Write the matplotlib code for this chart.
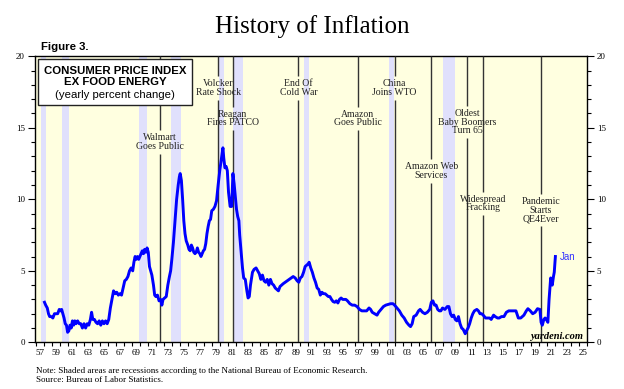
import numpy as np
import matplotlib
matplotlib.use("Agg")
from matplotlib import pyplot as plt
from matplotlib.patches import Rectangle

# core CPI, yearly % change, decimal years
years = [
    1958.05, 1958.2, 1958.4, 1958.55, 1958.7, 1958.9, 1959.1, 1959.3, 1959.5, 1959.7, 1959.9,
    1960.05, 1960.2, 1960.35, 1960.5, 1960.65, 1960.8, 1960.95, 1961.1, 1961.25, 1961.4, 1961.55,
    1961.7, 1961.85, 1962.0, 1962.2, 1962.4, 1962.6, 1962.8, 1963.0, 1963.2, 1963.4, 1963.6,
    1963.8, 1963.95, 1964.1, 1964.3, 1964.5, 1964.7, 1964.9, 1965.1, 1965.3, 1965.5, 1965.7,
    1965.9, 1966.1, 1966.3, 1966.5, 1966.7, 1966.9, 1967.1, 1967.3, 1967.5, 1967.7, 1967.9,
    1968.1, 1968.3, 1968.5, 1968.7, 1968.9, 1969.1, 1969.25, 1969.4, 1969.55, 1969.7, 1969.85,
    1970.0, 1970.15, 1970.3, 1970.45, 1970.6, 1970.75, 1970.9, 1971.05, 1971.2, 1971.35, 1971.5,
    1971.7, 1971.85, 1972.0, 1972.2, 1972.4, 1972.6, 1972.75, 1972.9, 1973.1, 1973.3, 1973.5,
    1973.7, 1973.85, 1974.0, 1974.2, 1974.4, 1974.6, 1974.8, 1974.95, 1975.05, 1975.2, 1975.35,
    1975.5, 1975.65, 1975.8, 1976.0, 1976.15, 1976.3, 1976.45, 1976.6, 1976.75, 1976.9, 1977.05,
    1977.2, 1977.35, 1977.5, 1977.65, 1977.8, 1977.95, 1978.1, 1978.25, 1978.4, 1978.55, 1978.7,
    1978.85, 1979.0, 1979.2, 1979.4, 1979.6, 1979.8, 1980.0, 1980.15, 1980.3, 1980.4, 1980.5,
    1980.65, 1980.8, 1980.95, 1981.1, 1981.3, 1981.5, 1981.65, 1981.8, 1981.95, 1982.1, 1982.25,
    1982.4, 1982.5, 1982.7, 1982.85, 1983.0, 1983.2, 1983.4, 1983.55, 1983.7, 1983.85, 1984.1,
    1984.3, 1984.55, 1984.75, 1984.95, 1985.15, 1985.35, 1985.55, 1985.75, 1985.95, 1986.15,
    1986.35, 1986.55, 1986.75, 1986.95, 1987.15, 1987.35, 1987.55, 1987.75, 1987.95, 1988.2,
    1988.45, 1988.7, 1988.95, 1989.2, 1989.45, 1989.7, 1989.9, 1990.1, 1990.3, 1990.5, 1990.7,
    1990.9, 1991.1, 1991.2, 1991.4, 1991.6, 1991.8, 1992.0, 1992.2, 1992.4, 1992.6, 1992.8,
    1993.0, 1993.2, 1993.4, 1993.6, 1993.8, 1994.0, 1994.2, 1994.4, 1994.6, 1994.8, 1995.0,
    1995.2, 1995.4, 1995.6, 1995.8, 1996.0, 1996.3, 1996.6, 1996.9, 1997.2, 1997.5, 1997.8,
    1998.1, 1998.4, 1998.7, 1998.9, 1999.1, 1999.4, 1999.7, 1999.9, 2000.2, 2000.5, 2000.8,
    2001.1, 2001.4, 2001.7, 2001.9, 2002.2, 2002.5, 2002.8, 2003.1, 2003.4, 2003.7, 2003.9,
    2004.1, 2004.3, 2004.6, 2004.9, 2005.1, 2005.4, 2005.7, 2006.0, 2006.3, 2006.5, 2006.7,
    2006.9, 2007.1, 2007.3, 2007.5, 2007.7, 2007.9, 2008.2, 2008.5, 2008.7, 2008.9, 2009.1,
    2009.3, 2009.5, 2009.7, 2009.9, 2010.1, 2010.3, 2010.5, 2010.75, 2010.9, 2011.1, 2011.3,
    2011.5, 2011.7, 2011.9, 2012.2, 2012.4, 2012.6, 2012.8, 2013.0, 2013.3, 2013.5, 2013.8,
    2014.0, 2014.3, 2014.5, 2014.8, 2015.0, 2015.3, 2015.6, 2015.9, 2016.2, 2016.5, 2016.8,
    2017.1, 2017.4, 2017.7, 2017.9, 2018.1, 2018.4, 2018.6, 2018.9, 2019.2, 2019.5, 2019.8,
    2020.1, 2020.25, 2020.4, 2020.6, 2020.75, 2020.9, 2021.1, 2021.25, 2021.35, 2021.45, 2021.55,
    2021.65, 2021.8, 2021.9, 2022.04,
]
core_cpi = [
    2.8, 2.6, 2.4, 2.0, 1.8, 1.8, 1.7, 2.0, 2.0, 2.0, 2.3,
    2.2, 2.3, 2.0, 1.7, 1.3, 1.2, 0.7, 0.8, 1.2, 1.0, 1.5,
    1.2, 1.5, 1.3, 1.5, 1.3, 1.3, 1.0, 1.3, 1.0, 1.3, 1.2,
    1.6, 2.1, 1.6, 1.6, 1.4, 1.3, 1.5, 1.2, 1.5, 1.3, 1.5,
    1.3, 1.6, 2.4, 3.0, 3.6, 3.4, 3.5, 3.3, 3.4, 3.3, 3.8,
    4.3, 4.4, 4.6, 5.0, 5.2, 5.0, 5.6, 6.0, 5.8, 6.0, 5.8,
    6.0, 6.2, 6.4, 6.2, 6.5, 6.3, 6.6, 6.3, 5.3, 5.0, 4.7,
    4.0, 3.3, 3.2, 3.3, 2.9, 3.0, 2.6, 3.0, 3.1, 3.2, 4.0,
    4.6, 5.0, 5.8, 7.0, 8.5, 10.0, 11.0, 11.6, 11.8, 11.3, 10.0,
    8.5, 7.6, 7.1, 6.8, 6.5, 6.4, 6.8, 6.6, 6.3, 6.2, 6.3,
    6.6, 6.3, 6.2, 6.0, 6.2, 6.4, 6.5, 6.9, 7.6, 8.1, 8.5,
    8.6, 9.2, 9.3, 9.5, 9.9, 11.0, 12.0, 12.6, 13.2, 13.6, 12.9,
    12.2, 12.3, 12.0, 10.5, 9.5, 9.5, 11.8, 11.1, 10.2, 9.3, 8.8,
    8.5, 7.5, 6.2, 5.2, 4.5, 4.4, 3.6, 3.1, 3.2, 4.0, 4.9,
    5.1, 5.2, 5.0, 4.8, 4.4, 4.7, 4.3, 4.2, 4.4, 4.0,
    4.4, 4.1, 4.0, 3.8, 3.7, 3.6, 3.9, 4.0, 4.1, 4.2,
    4.3, 4.4, 4.5, 4.6, 4.5, 4.3, 4.2, 4.5, 4.6, 4.9, 5.3,
    5.4, 5.5, 5.6, 5.2, 4.9, 4.5, 4.2, 3.8, 3.7, 3.3, 3.5,
    3.4, 3.4, 3.3, 3.2, 3.2, 3.0, 2.85, 2.8, 2.9, 2.75, 3.0,
    3.1, 3.0, 3.0, 3.0, 2.9, 2.7, 2.6, 2.6, 2.5, 2.3, 2.2,
    2.2, 2.2, 2.4, 2.3, 2.1, 2.0, 1.9, 2.1, 2.3, 2.5, 2.6,
    2.65, 2.7, 2.7, 2.6, 2.4, 2.2, 1.9, 1.7, 1.4, 1.2, 1.1,
    1.3, 1.8, 1.9, 2.2, 2.3, 2.1, 2.0, 2.1, 2.3, 2.8, 2.9,
    2.6, 2.6, 2.3, 2.2, 2.2, 2.4, 2.3, 2.5, 2.5, 2.0, 1.8,
    1.9, 1.6, 1.5, 1.8, 1.3, 1.0, 0.9, 0.6, 0.8, 1.0, 1.3,
    1.7, 2.0, 2.2, 2.3, 2.2, 2.0, 2.0, 1.9, 1.7, 1.7, 1.7,
    1.6, 1.9, 1.8, 1.7, 1.7, 1.8, 1.8, 2.1, 2.2, 2.2, 2.2,
    2.2, 1.7, 1.7, 1.8, 1.9, 2.2, 2.35, 2.2, 2.0, 2.1, 2.35,
    2.3, 1.4, 1.2, 1.6, 1.7, 1.6, 1.4, 3.0, 3.8, 4.5, 4.3,
    4.0, 4.6, 4.9, 6.0,
]

# NBER recessions (start, end)
recessions = [(1957.6, 1958.3), (1960.3, 1961.1), (1969.9, 1970.9), (1973.85, 1975.2),
              (1979.95, 1980.5), (1981.6, 1982.9), (1990.55, 1991.2), (2001.15, 2001.85),
              (2008.0, 2009.45)]

event_years = [1972.5, 1979.8, 1981.6, 1989.85, 1997.3, 2001.9, 2006.5, 2011.0, 2013.0, 2020.2]
event_labels = ["Walmart\nGoes Public", "Volcker\nRate Shock", "Reagan\nFires PATCO",
                "End Of\nCold War", "Amazon\nGoes Public", "China\nJoins WTO",
                "Amazon Web\nServices", "Oldest\nBaby Boomers\nTurn 65",
                "Widespread\nFracking", "Pandemic\nStarts\nQE4Ever"]
# vertical position of each label (y units)
label_levels = [14.0, 17.8, 15.65, 17.8, 15.65, 17.8, 12.0, 15.4, 9.7, 9.25]

bg = "#ffffe0"
shade = "#e0e0fc"
serif = "Liberation Serif"
sans = "Liberation Sans"

fig = plt.figure(figsize=(6.24, 3.89), dpi=100)
ax = fig.add_axes([0.0553, 0.1200, 0.8854, 0.7353])
ax.set_facecolor(bg)
ax.set_xlim(1956.8, 2026.0)
ax.set_ylim(0, 20)

for a, b in recessions:
    ax.axvspan(a, b, color=shade, lw=0, zorder=1)

ax.plot(years, core_cpi, color="#0000ff", lw=2.1, zorder=5, solid_joinstyle="round")

texts = []
for x, lab, lev in zip(event_years, event_labels, label_levels):
    t = ax.text(x, lev, lab, ha="center", va="center", fontsize=7, family=serif,
                color="#222222", linespacing=0.95, zorder=4)
    texts.append(t)

fig.canvas.draw()
renderer = fig.canvas.get_renderer()
inv = ax.transData.inverted()
for x, t in zip(event_years, texts):
    bb = t.get_window_extent(renderer)
    y0 = inv.transform((0, bb.y0 - 3))[1]
    y1 = inv.transform((0, bb.y1 + 3))[1]
    ax.vlines(x, 0, y0, color="#333333", lw=1.0, zorder=3)
    ax.vlines(x, y1, 20, color="#333333", lw=1.0, zorder=3)

# legend box
ax.add_patch(Rectangle((0.006, 0.83), 0.279, 0.161, transform=ax.transAxes,
                       facecolor="white", edgecolor="#222222", lw=1.0, zorder=6))
box_lines = ["CONSUMER PRICE INDEX", "EX FOOD ENERGY", "(yearly percent change)"]
for txt, yy, wt in zip(box_lines, [0.949, 0.910, 0.866], ["bold", "bold", "normal"]):
    ax.text(0.1455, yy, txt, transform=ax.transAxes, ha="center", va="center",
            fontsize=8.2, fontweight=wt, family=sans, zorder=7)

ax.text(2022.6, 5.97, "Jan", color="#3333ff", fontsize=7, family=sans, va="center", zorder=7)
ax.text(0.993, 0.022, "yardeni.com", transform=ax.transAxes, ha="right", va="center",
        fontsize=7.5, family=serif, style="italic", fontweight="bold", zorder=7)

# ticks
yrs = np.arange(1957, 2027)
ax.set_xticks(yrs, minor=True)
odd = np.arange(1957, 2026, 2)
ax.set_xticks(odd + 0.5)
ax.set_xticklabels(["%02d" % (y % 100) for y in odd])
ax.tick_params(axis="x", which="major", length=0, pad=5, labelsize=6.5)
ax.tick_params(axis="x", which="minor", length=3, direction="out", width=0.8)
ax.set_yticks([0, 5, 10, 15, 20])
ax.set_yticks(np.arange(0, 21), minor=True)
ax.tick_params(axis="y", which="both", left=True, right=True, labelleft=True,
               labelright=True, direction="out", labelsize=6.5, width=0.8)
ax.tick_params(axis="y", which="major", length=5, pad=2)
ax.tick_params(axis="y", which="minor", length=3)
for lbl in ax.get_xticklabels() + ax.get_yticklabels():
    lbl.set_family(serif)
for s in ax.spines.values():
    s.set_linewidth(1.0)

fig.text(0.5, 0.933, "History of Inflation", ha="center", va="center", fontsize=18, family=serif)
fig.text(0.065, 0.880, "Figure 3.", ha="left", va="center", fontsize=8.2, fontweight="bold", family=sans)
fig.text(0.058, 0.046, "Note: Shaded areas are recessions according to the National Bureau of Economic Research.",
         ha="left", va="center", fontsize=6.5, family=serif)
fig.text(0.058, 0.022, "Source: Bureau of Labor Statistics.", ha="left", va="center", fontsize=6.5, family=serif)

fig.savefig("out.png", dpi=100)
